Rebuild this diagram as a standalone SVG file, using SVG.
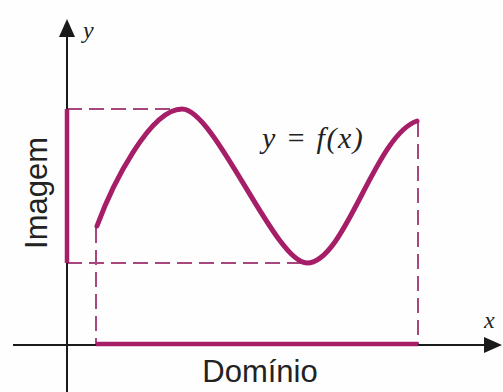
<svg xmlns="http://www.w3.org/2000/svg" width="503" height="392" viewBox="0 0 503 392">
<defs>
<style>
.axis{stroke:#1a1a1a;stroke-width:2;fill:none}
.dash{stroke:#a8467e;stroke-width:2;fill:none;stroke-dasharray:15 7}
.mag{stroke:#a61d68;stroke-width:4.5;fill:none;stroke-linecap:butt}
.curve{stroke:#a61d68;stroke-width:5;fill:none;stroke-linecap:round}
.it{font-family:"Liberation Serif",serif;font-style:italic;fill:#222}
.lab{font-family:"Liberation Sans",Arial,sans-serif;fill:#222}
</style>
</defs>
<rect width="503" height="392" fill="#fefefe"/>
<g id="connectors">
<line class="dash" x1="67" y1="109" x2="180" y2="109"/>
<line class="dash" x1="67" y1="263" x2="305" y2="263"/>
<line class="dash" x1="96" y1="228" x2="96" y2="344"/>
<line class="dash" x1="418" y1="122" x2="418" y2="344"/>
</g>
<g id="axes">
<line class="axis" x1="67" y1="392" x2="67" y2="34"/>
<polygon points="67,19 59,37 75,37" fill="#1a1a1a"/>
<line class="axis" x1="13" y1="345" x2="486" y2="345"/>
<polygon points="502,345 484,337 484,353" fill="#1a1a1a"/>
</g>
<g id="imagem">
<line class="mag" x1="67" y1="109" x2="67" y2="263"/>
<text class="lab" font-size="31" text-anchor="middle" transform="translate(47,193) rotate(-90)">Imagem</text>
</g>
<g id="dominio">
<line class="mag" x1="96" y1="344" x2="418" y2="344"/>
<text class="lab" font-size="31" text-anchor="middle" x="260" y="382">Domínio</text>
</g>
<g id="curve">
<path class="curve" d="M97,226 C112,185 150,109 182,109 C215,109 275,263 307,263 C345,263 375,135 417,121"/>
<text class="it" font-size="30" letter-spacing="1.5" x="262" y="148">y = f(x)</text>
</g>
<g id="labels">
<text class="it" font-size="24" x="83" y="38">y</text>
<text class="it" font-size="24" x="484" y="328">x</text>
</g>
</svg>
